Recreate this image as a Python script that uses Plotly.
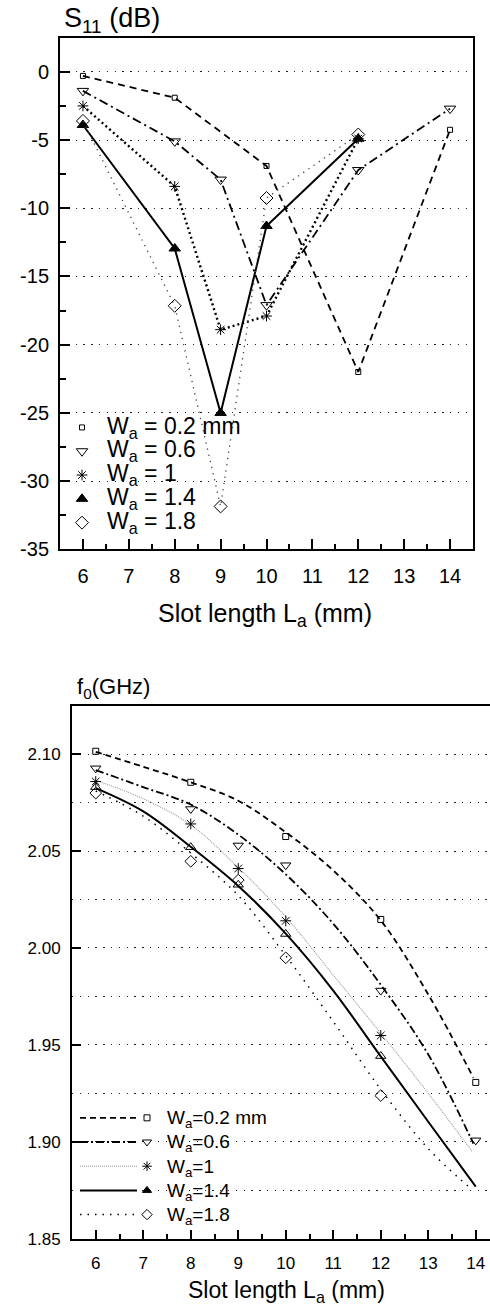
import plotly.graph_objects as go

# ---------------- Data: top chart, S11 (dB) vs slot length La (mm) ----------------
s11_x_02 = [6, 8, 10, 12, 14]
s11_y_02 = [-0.3, -1.9, -6.9, -22.0, -4.25]
s11_x_06 = [6, 8, 9, 10, 12, 14]
s11_y_06 = [-1.4, -5.1, -7.9, -17.1, -7.2, -2.7]
s11_x_10 = [6, 8, 9, 10, 12]
s11_y_10 = [-2.5, -8.4, -18.9, -17.9, -4.9]
s11_x_14 = [6, 8, 9, 10, 12]
s11_y_14 = [-3.9, -12.95, -25.0, -11.3, -4.9]
s11_x_18 = [6, 8, 9, 10, 12]
s11_y_18 = [-3.6, -17.15, -31.85, -9.25, -4.6]

s11_tickvals = [0, -5, -10, -15, -20, -25, -30, -35]
s11_ticktext = ["0", "-5", "-10", "-15", "-20", "-25", "-30", "-35"]

# ---------------- Data: bottom chart, f0 (GHz) vs slot length ----------------
f0_x_02 = [6, 8, 10, 12, 14]
f0_y_02 = [2.1015, 2.0855, 2.0575, 2.0147, 1.9306]
f0_x_06 = [6, 8, 9, 10, 12, 14]
f0_y_06 = [2.0927, 2.0717, 2.0529, 2.0427, 1.978, 1.9007]
f0_x_10 = [6, 8, 9, 10, 12]
f0_y_10 = [2.0859, 2.064, 2.041, 2.014, 1.9548]
f0_x_14 = [6, 8, 9, 10, 12]
f0_y_14 = [2.083, 2.052, 2.0326, 2.0072, 1.9442]
f0_x_18 = [6, 8, 9, 10, 12]
f0_y_18 = [2.0799, 2.0447, 2.035, 1.9949, 1.9238]

# fitted curves
fit_x_02 = [6, 7, 8, 9, 10, 11, 12, 13, 13.95]
fit_y_02 = [2.1012, 2.0935, 2.0855, 2.0760, 2.0597, 2.040, 2.0142, 1.976, 1.933]
fit_x_06 = [6, 7, 8, 9, 10, 11, 12, 13, 13.95]
fit_y_06 = [2.0918, 2.0830, 2.0740, 2.0585, 2.038, 2.0125, 1.981, 1.945, 1.899]
fit_x_10 = [6, 7, 8, 9, 10, 11, 12, 13, 13.93]
fit_y_10 = [2.0865, 2.077, 2.0635, 2.0415, 2.016, 1.986, 1.956, 1.925, 1.8947]
fit_x_14 = [6, 7, 8, 9, 10, 11, 12, 13, 14]
fit_y_14 = [2.0825, 2.0705, 2.0522, 2.032, 2.0074, 1.978, 1.944, 1.9103, 1.8768]
fit_x_18 = [6, 7, 8, 9, 10, 11, 12, 13, 13.85]
fit_y_18 = [2.081, 2.068, 2.049, 2.027, 1.996, 1.962, 1.927, 1.8964, 1.8768]

top_names = ["W<sub>a</sub> = 0.2 mm", "W<sub>a</sub> = 0.6", "W<sub>a</sub> = 1",
             "W<sub>a</sub> = 1.4", "W<sub>a</sub> = 1.8"]
bot_names = ["W<sub>a</sub>=0.2 mm", "W<sub>a</sub>=0.6", "W<sub>a</sub>=1",
             "W<sub>a</sub>=1.4", "W<sub>a</sub>=1.8"]

# ---------------- Styles ----------------
W, H = 490, 1316
FONT = "Liberation Sans, Arial, sans-serif"
BLACK = "black"

top_series = [
    (s11_x_02, s11_y_02, dict(color=BLACK, width=1.8, dash="7px,5px"),
     dict(symbol="square-open", size=5)),
    (s11_x_06, s11_y_06, dict(color=BLACK, width=1.8, dash="9px,4px,2px,4px"),
     dict(symbol="triangle-down-open", size=10)),
    (s11_x_10, s11_y_10, dict(color=BLACK, width=2.4, dash="2px,3px"),
     dict(symbol="asterisk-open", size=9)),
    (s11_x_14, s11_y_14, dict(color=BLACK, width=2), dict(symbol="triangle-up", size=10)),
    (s11_x_18, s11_y_18, dict(color="#444", width=1.3, dash="1.3px,5px"),
     dict(symbol="diamond-open", size=10)),
]

bot_lines = [
    dict(color=BLACK, width=1.8, dash="6px,4px"),
    dict(color=BLACK, width=1.8, dash="8px,3px,2px,3px"),
    dict(color="#999", width=1.1, dash="1px,1px"),
    dict(color=BLACK, width=2),
    dict(color=BLACK, width=1.5, dash="1.5px,6px"),
]
bot_markers = [
    dict(symbol="square-open", size=6),
    dict(symbol="triangle-down-open", size=9),
    dict(symbol="asterisk-open", size=9),
    dict(symbol="triangle-up-open", size=9),
    dict(symbol="diamond-open", size=9),
]
bot_leg_markers = [
    dict(symbol="square-open", size=6),
    dict(symbol="triangle-down-open", size=8),
    dict(symbol="asterisk-open", size=8),
    dict(symbol="triangle-up", size=8),
    dict(symbol="diamond-open", size=8),
]
bot_data = [(f0_x_02, f0_y_02), (f0_x_06, f0_y_06), (f0_x_10, f0_y_10),
            (f0_x_14, f0_y_14), (f0_x_18, f0_y_18)]
bot_fits = [(fit_x_02, fit_y_02), (fit_x_06, fit_y_06), (fit_x_10, fit_y_10),
            (fit_x_14, fit_y_14), (fit_x_18, fit_y_18)]

fig = go.Figure()

# ---- top chart traces ----
for (xs, ys, ln, mk), nm in zip(top_series, top_names):
    m = dict(mk, color=BLACK, line=dict(color=BLACK, width=1))
    fig.add_trace(go.Scatter(x=xs, y=ys, mode="lines+markers", line=ln, marker=m,
                             showlegend=False, xaxis="x", yaxis="y"))
for (xs, ys, ln, mk), nm in zip(top_series, top_names):
    m = dict(mk, color=BLACK, line=dict(color=BLACK, width=1))
    fig.add_trace(go.Scatter(x=[None], y=[None], mode="markers", marker=m,
                             name='<span style="font-size:23px">' + nm + '</span>',
                             legend="legend", xaxis="x", yaxis="y"))

# ---- bottom chart traces ----
for (fx, fy), ln in zip(bot_fits, bot_lines):
    fig.add_trace(go.Scatter(x=fx, y=fy, mode="lines", line=dict(ln, shape="spline", smoothing=1),
                             showlegend=False, xaxis="x2", yaxis="y2"))
for (dx, dy), mk in zip(bot_data, bot_markers):
    m = dict(mk, color=BLACK, line=dict(color=BLACK, width=1))
    fig.add_trace(go.Scatter(x=dx, y=dy, mode="markers", marker=m,
                             showlegend=False, xaxis="x2", yaxis="y2"))
# legend: line samples
for ln in bot_lines:
    fig.add_trace(go.Scatter(x=[None], y=[None], mode="lines", line=ln, name=" ",
                             legend="legend2", xaxis="x2", yaxis="y2"))
# legend: markers + labels
for mk, nm in zip(bot_leg_markers, bot_names):
    m = dict(mk, color=BLACK, line=dict(color=BLACK, width=1))
    fig.add_trace(go.Scatter(x=[None], y=[None], mode="markers", marker=m,
                             name='<span style="font-size:19px">' + nm + '</span>',
                             legend="legend3", xaxis="x2", yaxis="y2"))

GRID = dict(showgrid=True, gridcolor="#222", gridwidth=1.2, griddash="1.3px,6.5px")

fig.update_layout(
    width=W, height=H,
    margin=dict(l=0, r=0, t=0, b=0),
    paper_bgcolor="white", plot_bgcolor="white",
    font=dict(family=FONT, color=BLACK),
    xaxis=dict(domain=[60 / W, 473 / W], range=[5.5, 14.5], anchor="y",
               tick0=6, dtick=1, ticks="inside", ticklen=10, tickwidth=1.5, tickcolor=BLACK,
               minor=dict(dtick=0.5, ticks="inside", ticklen=5, tickwidth=1.5, tickcolor=BLACK),
               showline=True, linewidth=2, linecolor=BLACK, mirror=True,
               showgrid=False, zeroline=False, tickfont=dict(size=20),
               ticklabelstandoff=8),
    yaxis=dict(domain=[1 - 554 / H, 1 - 38 / H], range=[-35, 2.5], anchor="x",
               tickmode="array", tickvals=s11_tickvals, ticktext=s11_ticktext,
               ticks="inside", ticklen=10, tickwidth=1.5, tickcolor=BLACK,
               minor=dict(dtick=2.5, tick0=0, ticks="inside", ticklen=6, tickwidth=1.5,
                          tickcolor=BLACK),
               showline=True, linewidth=2, linecolor=BLACK, mirror=True,
               zeroline=False, tickfont=dict(size=20), ticklabelstandoff=5, **GRID),
    xaxis2=dict(domain=[72 / W, 1.0], range=[5.5, 14.3], anchor="y2",
                tick0=6, dtick=1, ticks="inside", ticklen=9, tickwidth=1.5, tickcolor=BLACK,
                minor=dict(dtick=0.5, ticks="inside", ticklen=5, tickwidth=1.5, tickcolor=BLACK),
                showline=True, linewidth=2, linecolor=BLACK, mirror=True,
                showgrid=False, zeroline=False, tickfont=dict(size=17),
                ticklabelstandoff=8),
    yaxis2=dict(domain=[1 - 1249 / H, 1 - 711.7 / H], range=[1.85, 2.125], anchor="x2",
                tick0=1.85, dtick=0.05, tickformat=".2f",
                ticks="inside", ticklen=9, tickwidth=1.5, tickcolor=BLACK,
                minor=dict(dtick=0.025, tick0=1.85, showgrid=True, gridcolor="#222",
                           gridwidth=1.2, griddash="1.3px,6.5px"),
                showline=True, linewidth=2, linecolor=BLACK, mirror=False,
                zeroline=False, tickfont=dict(size=17), ticklabelstandoff=6, **GRID),
    legend=dict(x=57 / W, y=1 - 414 / H, xanchor="left", yanchor="top",
                bgcolor="rgba(0,0,0,0)", font=dict(size=16), itemwidth=40,
                tracegroupgap=0),
    legend2=dict(x=75 / W, y=1 - 1110 / H, xanchor="left", yanchor="top",
                 bgcolor="rgba(0,0,0,0)", font=dict(size=16.3), itemwidth=57,
                 tracegroupgap=0),
    legend3=dict(x=127 / W, y=1 - 1110 / H, xanchor="left", yanchor="top",
                 bgcolor="rgba(0,0,0,0)", font=dict(size=16.3), itemwidth=30,
                 tracegroupgap=0),
    annotations=[
        dict(text="S<sub>11</sub> (dB)", xref="paper", yref="paper",
             x=62 / W, y=1 - 20 / H, xanchor="left", yanchor="middle",
             showarrow=False, font=dict(size=27)),
        dict(text="Slot length L<sub>a</sub> (mm)", xref="paper", yref="paper",
             x=265 / W, y=1 - 620 / H, xanchor="center", yanchor="middle",
             showarrow=False, font=dict(size=25)),
        dict(text="f<sub>0</sub>(GHz)", xref="paper", yref="paper",
             x=75 / W, y=1 - 694 / H, xanchor="left", yanchor="middle",
             showarrow=False, font=dict(size=22)),
        dict(text="Slot length L<sub>a</sub> (mm)", xref="paper", yref="paper",
             x=286 / W, y=1 - 1302 / H, xanchor="center", yanchor="middle",
             showarrow=False, font=dict(size=23)),
    ],
)

PAGE_FIX = (
    "var s=document.documentElement.style;s.margin='0';s.padding='0';s.overflow='hidden';"
    "var b=document.body.style;b.margin='0';b.padding='0';b.overflow='hidden';"
    "b.width='490px';b.height='1316px';"
)

fig.write_html("out.html", config={"displayModeBar": False}, post_script=PAGE_FIX)
